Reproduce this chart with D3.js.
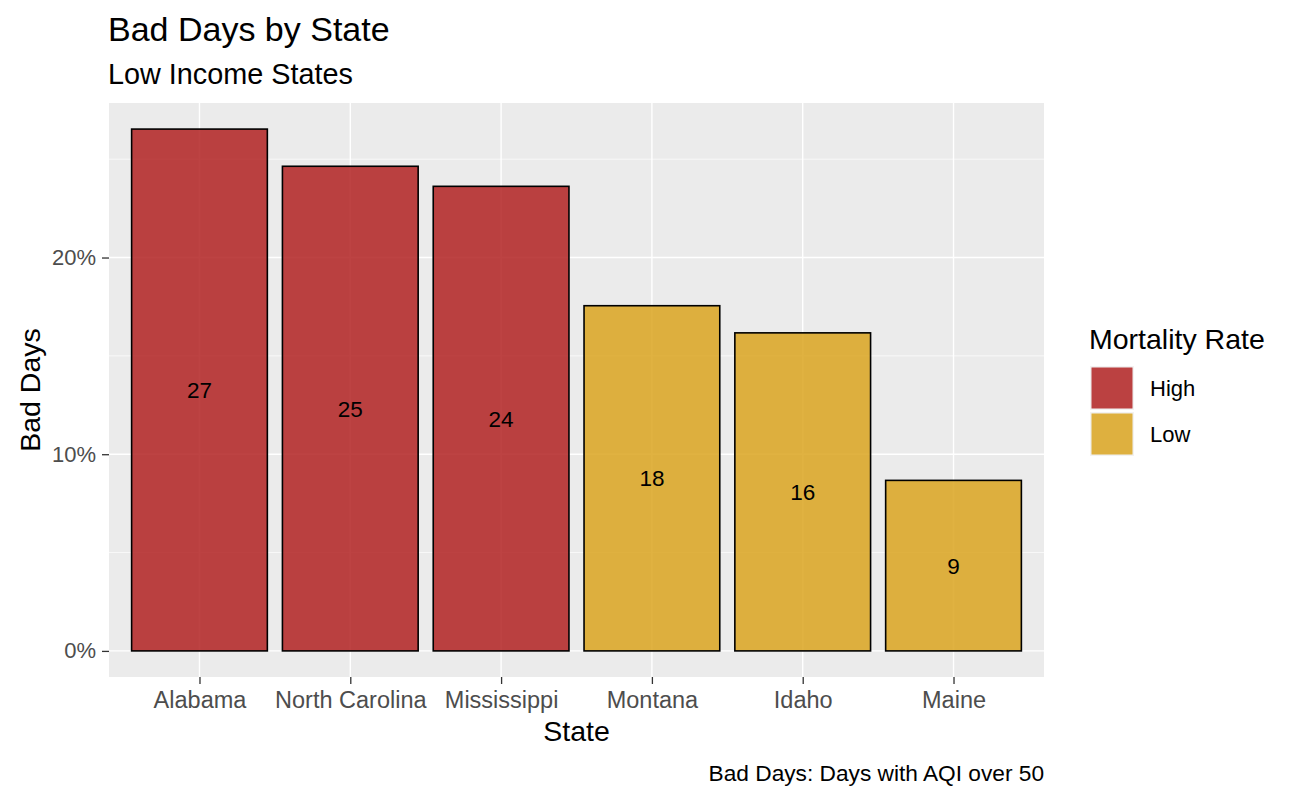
<!DOCTYPE html>
<html><head><meta charset="utf-8">
<script src="https://cdn.jsdelivr.net/npm/d3@7"></script>
<style>body{margin:0;background:#fff;font-family:"Liberation Sans",Arial,sans-serif;}</style>
</head><body><svg id="c" width="1296" height="800"></svg>
<script>
const states = ["Alabama","North Carolina","Mississippi","Montana","Idaho","Maine"];
const badDays = [0.2653,0.2464,0.2362,0.1755,0.1617,0.0867];
const labels = ["27","25","24","18","16","9"];
const mortality = ["High","High","High","Low","Low","Low"];
const mortalityLevels = ["High","Low"];
const yTicks = [0,0.1,0.2];
const yMinor = [0.05,0.15,0.25];

const svg = d3.select("#c");
const P = {l:109, r:1044, t:103, b:677};
const ymax = d3.max(badDays), pad = ymax*0.05;
const y = d3.scaleLinear().domain([-pad, ymax+pad]).range([P.b, P.t]);
// ggplot discrete expansion: 0.6 units on each side, bar width 0.9
const step = (P.r-P.l)/(states.length-1+1.2);
const xc = d3.scalePoint().domain(states).range([P.l+0.6*step, P.r-0.6*step]);
const color = d3.scaleOrdinal().domain(mortalityLevels).range(["#B22222","#DAA520"]);

svg.append("rect").attr("x",P.l).attr("y",P.t).attr("width",P.r-P.l).attr("height",P.b-P.t).attr("fill","#EBEBEB");
const g = svg.append("g");
yMinor.forEach(v=>g.append("line").attr("x1",P.l).attr("x2",P.r).attr("y1",y(v)).attr("y2",y(v)).attr("stroke","#fff").attr("stroke-width",0.7));
yTicks.forEach(v=>g.append("line").attr("x1",P.l).attr("x2",P.r).attr("y1",y(v)).attr("y2",y(v)).attr("stroke","#fff").attr("stroke-width",1.4));
states.forEach(s=>g.append("line").attr("x1",xc(s)).attr("x2",xc(s)).attr("y1",P.t).attr("y2",P.b).attr("stroke","#fff").attr("stroke-width",1.4));

const bw = step*0.9;
svg.append("g").selectAll("rect").data(states).join("rect")
  .attr("x",(d)=>xc(d)-bw/2).attr("width",bw)
  .attr("y",(d,i)=>y(badDays[i])).attr("height",(d,i)=>y(0)-y(badDays[i]))
  .attr("fill",(d,i)=>color(mortality[i])).attr("fill-opacity",0.85)
  .attr("stroke","#000").attr("stroke-width",1.6);

svg.append("g").selectAll("text").data(states).join("text")
  .attr("x",d=>xc(d)).attr("y",(d,i)=>y(badDays[i]/2)).attr("dy","0.36em")
  .attr("text-anchor","middle").attr("font-size",22.5).attr("fill","#000")
  .text((d,i)=>labels[i]);

// y axis
const ya = svg.append("g").attr("transform",`translate(${P.l},0)`)
  .call(d3.axisLeft(y).tickValues(yTicks).tickFormat(d3.format(".0%")).tickSize(7).tickPadding(6));
ya.select(".domain").remove();
ya.selectAll("line").attr("stroke","#333").attr("stroke-width",1.3);
ya.selectAll("text").attr("fill","#4D4D4D").attr("font-size",22).attr("font-family","Liberation Sans, Arial, sans-serif");
// x axis
const xa = svg.append("g").attr("transform",`translate(0,${P.b})`)
  .call(d3.axisBottom(xc).tickSize(7).tickPadding(7));
xa.select(".domain").remove();
xa.selectAll("line").attr("stroke","#333").attr("stroke-width",1.3);
xa.selectAll("text").attr("fill","#4D4D4D").attr("font-size",23.5).attr("font-family","Liberation Sans, Arial, sans-serif");

svg.append("text").attr("x",108).attr("y",41).attr("font-size",34).text("Bad Days by State");
svg.append("text").attr("x",108).attr("y",84).attr("font-size",28.8).text("Low Income States");
svg.append("text").attr("x",(P.l+P.r)/2).attr("y",741).attr("text-anchor","middle").attr("font-size",28.5).text("State");
svg.append("text").attr("transform",`translate(40,${(P.t+P.b)/2}) rotate(-90)`).attr("text-anchor","middle").attr("font-size",28.5).text("Bad Days");
svg.append("text").attr("x",P.r).attr("y",781).attr("text-anchor","end").attr("font-size",22.7).text("Bad Days: Days with AQI over 50");

// legend
const lg = svg.append("g");
lg.append("text").attr("x",1089).attr("y",349).attr("font-size",28.5).text("Mortality Rate");
mortalityLevels.forEach((m,i)=>{
  const ky = 366 + i*46;
  lg.append("rect").attr("x",1090).attr("y",ky).attr("width",44).attr("height",44).attr("fill","#F2F2F2");
  lg.append("rect").attr("x",1091.5).attr("y",ky+1.5).attr("width",41).attr("height",41).attr("fill",color(m)).attr("fill-opacity",0.85);
  lg.append("text").attr("x",1150).attr("y",ky+22).attr("dy","0.36em").attr("font-size",22).text(m);
});
</script></body></html>
